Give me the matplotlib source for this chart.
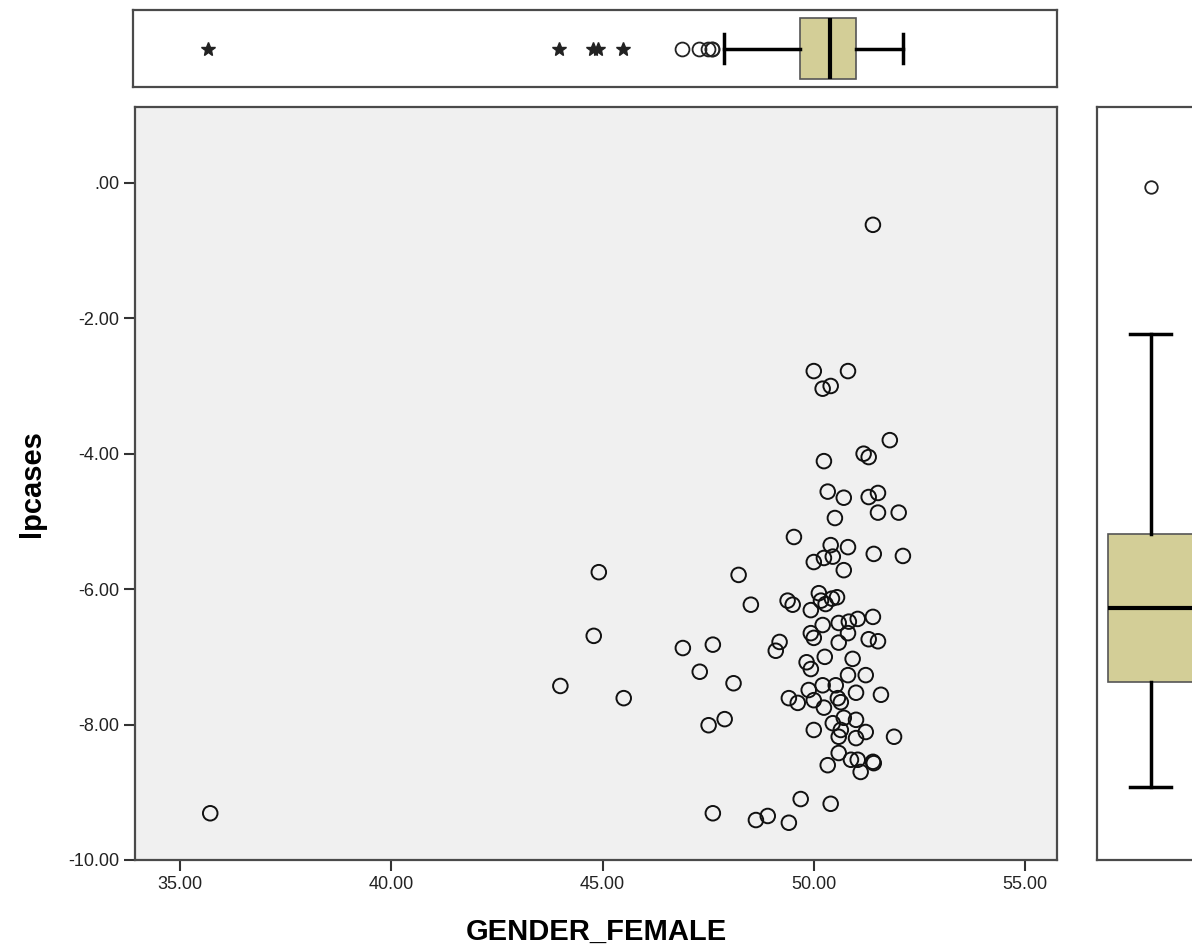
import numpy as np
import matplotlib
matplotlib.use("Agg")
from matplotlib import pyplot as plt
from matplotlib.ticker import FuncFormatter

plt.rcParams['font.family'] = ['Liberation Sans', 'DejaVu Sans']

# GENDER_FEMALE vs lpcases
gender_female = [
    35.71, 44.00, 44.79, 44.91, 45.50, 46.90, 47.30, 47.61, 47.51, 47.61,
    47.89, 48.10, 48.22, 48.51, 48.63, 48.91, 49.10, 49.19, 49.41, 49.41,
    49.38, 49.50, 49.53, 49.62, 49.69,
    51.40, 50.00, 50.81, 50.21, 50.40, 51.80, 50.24, 51.18, 51.30, 50.33,
    50.71, 51.30, 51.52, 50.50, 51.52, 52.01, 50.40, 50.81, 51.42, 52.11,
    50.00, 50.24, 50.45, 50.71,
    50.12, 50.17, 50.28, 50.43, 50.55, 49.93, 50.21, 50.59, 50.83, 51.04,
    51.40, 49.93, 50.00, 50.81, 50.59, 51.30, 51.52, 49.83, 49.93, 50.26,
    50.92, 50.81, 51.23, 49.88, 50.21, 50.52, 50.00, 50.24, 50.57, 50.64,
    51.00, 51.59, 50.00, 50.45, 50.71, 51.00, 50.64, 50.59, 51.23, 51.00,
    51.90, 50.59, 50.88, 51.04, 51.40, 51.42, 51.11, 50.33, 50.40,
]
lpcases = [
    -9.31, -7.43, -6.69, -5.75, -7.61, -6.87, -7.22, -6.82, -8.01, -9.31,
    -7.92, -7.39, -5.79, -6.23, -9.41, -9.35, -6.91, -6.78, -9.45, -7.61,
    -6.17, -6.23, -5.23, -7.68, -9.10,
    -0.62, -2.78, -2.78, -3.04, -3.00, -3.80, -4.11, -4.00, -4.05, -4.56,
    -4.65, -4.64, -4.58, -4.95, -4.87, -4.87, -5.35, -5.38, -5.48, -5.51,
    -5.60, -5.54, -5.52, -5.72,
    -6.06, -6.17, -6.22, -6.14, -6.12, -6.31, -6.53, -6.50, -6.48, -6.44,
    -6.41, -6.65, -6.72, -6.65, -6.79, -6.74, -6.77, -7.08, -7.18, -7.00,
    -7.03, -7.27, -7.27, -7.49, -7.42, -7.42, -7.64, -7.75, -7.61, -7.67,
    -7.53, -7.56, -8.08, -7.98, -7.90, -7.93, -8.08, -8.18, -8.11, -8.20,
    -8.18, -8.42, -8.52, -8.52, -8.55, -8.57, -8.70, -8.60, -9.17,
]
x_ticks = [35, 40, 45, 50, 55]
y_ticks = [0, -2, -4, -6, -8, -10]

x = np.array(gender_female)
y = np.array(lpcases)

box_color = '#D3CE97'
frame_color = '#4A4A4A'
xlim = (33.93, 55.76)

fig = plt.figure(figsize=(11.92, 9.51), dpi=100)
ax = fig.add_axes([0.1133, 0.0957, 0.7735, 0.7918])
ax_top = fig.add_axes([0.1116, 0.9085, 0.7752, 0.081])
ax_right = fig.add_axes([0.9203, 0.0957, 0.09, 0.7918])

# main scatter
ax.set_facecolor('#F0F0F0')
ax.scatter(x, y, s=110, facecolors='none', edgecolors='#111111', linewidths=1.4, zorder=3)
ax.set_xlim(xlim)
ax.set_ylim(-10, 1.12)
ax.set_xticks(x_ticks)
ax.set_yticks(y_ticks)
fmt = FuncFormatter(lambda v, p: '.00' if abs(v) < 1e-9 else '%.2f' % v)
ax.xaxis.set_major_formatter(fmt)
ax.yaxis.set_major_formatter(fmt)
ax.tick_params(direction='out', length=8, width=1.5, color='#333333', labelsize=13, labelcolor='#222222')
ax.set_xlabel('GENDER_FEMALE', fontsize=21, fontweight='bold', labelpad=18)
ax.set_ylabel('lpcases', fontsize=21, fontweight='bold', labelpad=16)
for sp in ax.spines.values():
    sp.set_color(frame_color)
    sp.set_linewidth(1.6)


def tukey_stats(data):
    # SPSS style boxplot: Tukey hinges, 1.5 / 3 IQR for outliers / extremes
    d = np.sort(data)
    n = len(d)
    half = (n + 1) // 2
    q1 = np.median(d[:half])
    q3 = np.median(d[n - half:])
    iqr = q3 - q1
    lo, hi = q1 - 1.5 * iqr, q3 + 1.5 * iqr
    inside = d[(d >= lo) & (d <= hi)]
    stats = dict(med=np.median(d), q1=q1, q3=q3, whislo=inside.min(), whishi=inside.max())
    out = d[(d < lo) | (d > hi)]
    far = (out < q1 - 3 * iqr) | (out > q3 + 3 * iqr)
    return stats, out, far


def draw_box(a, data, orient):
    stats, out, far = tukey_stats(data)
    a.bxp([stats], positions=[0.5], widths=0.8, orientation=orient, patch_artist=True,
          showfliers=False, capwidths=0.38,
          boxprops=dict(facecolor=box_color, edgecolor='#555555', linewidth=1.2),
          medianprops=dict(color='black', linewidth=3),
          whiskerprops=dict(color='black', linewidth=2.5),
          capprops=dict(color='black', linewidth=2.5))
    pos = np.full(len(out), 0.5)
    if orient == 'horizontal':
        a.plot(out[~far], pos[~far], 'o', mfc='none', mec='#222222', ms=10, mew=1.3)
        a.plot(out[far], pos[far], '*', color='#222222', ms=10)
    else:
        a.plot(pos[~far], out[~far], 'o', mfc='none', mec='#222222', ms=9, mew=1.3)
        a.plot(pos[far], out[far], '*', color='#222222', ms=10)
    a.set_xticks([])
    a.set_yticks([])
    for sp in a.spines.values():
        sp.set_color(frame_color)
        sp.set_linewidth(1.6)


draw_box(ax_top, x, 'horizontal')
ax_top.set_xlim(xlim)
ax_top.set_ylim(0, 1)

draw_box(ax_right, y, 'vertical')
ax_right.set_xlim(0, 1)
ax_right.set_ylim(-10.52, 0.56)

fig.savefig('out.png', dpi=100)
